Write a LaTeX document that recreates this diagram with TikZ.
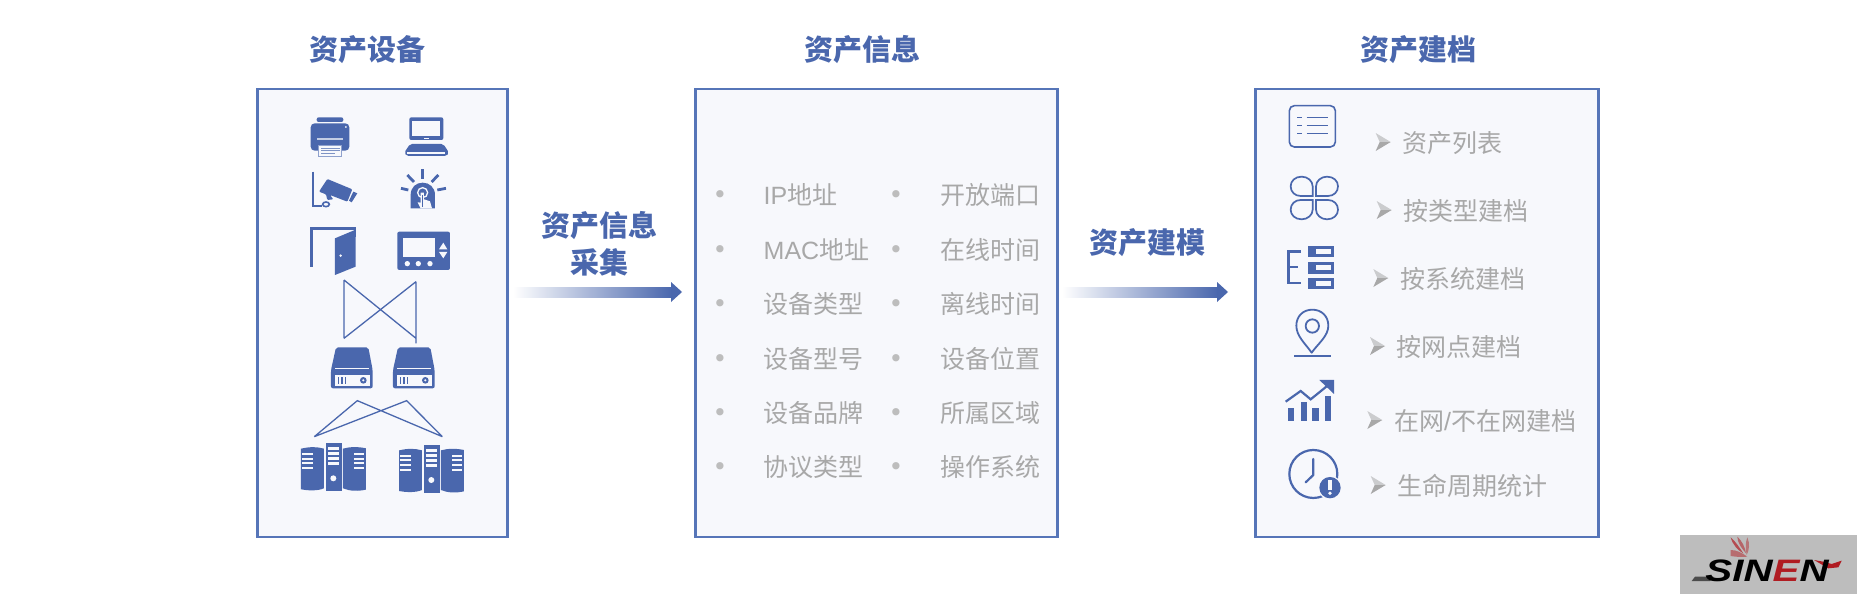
\documentclass[tikz,border=0pt]{standalone}
\usepackage{fontspec}
\setmainfont{Noto Sans CJK SC}
\newfontfamily\dejavu{DejaVu Sans}
\newfontfamily\logofont{Liberation Sans}
\usetikzlibrary{calc}
\definecolor{iconblue}{HTML}{4A67AD}
\definecolor{edgeblue}{HTML}{5675B8}
\definecolor{panelbg}{HTML}{F7F8FC}
\definecolor{greytext}{HTML}{A8A8A8}
\definecolor{dotgrey}{HTML}{BDBDBD}
\definecolor{logobg}{HTML}{BDBDBD}
\definecolor{logored}{HTML}{B01C22}
\tikzset{
  panel/.style={draw=edgeblue,fill=panelbg,line width=2.4pt,inner sep=0pt},
  heading/.style={text=iconblue,font=\fontsize{29}{32}\selectfont\bfseries,inner sep=0pt},
  infotext/.style={text=greytext,font=\fontsize{25}{28}\selectfont,anchor=west,inner sep=0pt},
  dotmark/.style={text=dotgrey,font=\dejavu\fontsize{25}{28}\selectfont,inner sep=0pt},
  solid blue/.style={fill=iconblue,draw=none},
  cutout/.style={fill=panelbg,draw=none},
  stroke blue/.style={draw=iconblue,line width=#1,fill=none},
  stroke blue/.default=1.6pt,
  link/.style={draw=iconblue,line width=1.3pt},
  zoomA/.style={shift={(250,80)},x=0.3333pt,y=-0.3333pt},
  zoomB/.style={shift={(250,270)},x=0.3333pt,y=-0.3333pt},
  zoomC/.style={shift={(1260,90)},x=0.3333pt,y=-0.3333pt},
  zoomD/.style={shift={(1260,300)},x=0.3333pt,y=-0.3333pt},
  zoomE/.style={shift={(1660,520)},x=0.3333pt,y=-0.3333pt},
}
\newcommand{\lat}[1]{{\logofont #1}}
\newcommand{\diskicon}{%
  \path[solid blue,rounded corners=2pt] (258,232)--(355,232)--(368,300)--(368,355)--(243,355)--(243,300)--cycle;
  \fill[panelbg] (255,295) rectangle (357,298);
  \fill[panelbg] (255,316) rectangle (360,347);
  \foreach \sx in {266,276,287}{\fill[iconblue] (\sx-2,321) rectangle (\sx+2,342);}
  \fill[iconblue] (340,331) circle[radius=10];
  \fill[panelbg] (340,331) circle[radius=3.5];
}
\newcommand{\servericon}{%
  \path[solid blue] (153,536) .. controls (180,530) and (200,530) .. (222,536) -- (222,655) .. controls (200,664) and (175,662) .. (153,658) -- cycle;
  \path[solid blue] (227,520) rectangle (275,663);
  \path[solid blue] (279,536) .. controls (300,530) and (325,530) .. (348,535) -- (348,659) .. controls (325,664) and (300,664) .. (279,655) -- cycle;
  \foreach \sy in {552,566,580,594}{
    \fill[panelbg] (157,\sy-3) rectangle (188,\sy+3);
    \fill[panelbg] (312,\sy-3) rectangle (343,\sy+3);
  }
  \foreach \sy in {536,551,566,581}{\fill[panelbg] (234,\sy-3.5) rectangle (268,\sy+3.5);}
  \fill[panelbg] (250,625) circle[radius=9];
}
\begin{document}
\begin{tikzpicture}[x=1pt,y=-1pt]
\useasboundingbox (0,0) rectangle (1857,594);
\fill[white] (0,0) rectangle (1857,594);

% panels
\node[panel,minimum width=250pt,minimum height=448pt] (devices) at (382.5,313) {};
\node[panel,minimum width=362pt,minimum height=448pt] (info) at (876.5,313) {};
\node[panel,minimum width=343pt,minimum height=448pt] (records) at (1427,313) {};

% headings
\node[heading] (h1) at (367,50) {资产设备};
\node[heading] (h2) at (862,50) {资产信息};
\node[heading] (h3) at (1418,50) {资产建档};

% arrows
\node[heading] (l1a) at (599,226) {资产信息};
\node[heading] (l1b) at (599,262) {采集};
\node[heading] (l2) at (1147,243) {资产建模};
\coordinate (a1s) at (513,292);
\coordinate (a1e) at (682,292);
\coordinate (a2s) at (1062,292);
\coordinate (a2e) at (1228,292);
\foreach \st/\en in {a1s/a1e,a2s/a2e}{
  \shade[left color=white,right color=iconblue] ($(\st)+(0,-5)$) rectangle ($(\en)+(-10,5)$);
  \fill[iconblue] ($(\en)+(-11,-10)$) -- (\en) -- ($(\en)+(-11,10)$) -- cycle;
}

% info lists
\foreach \ypos/\leftlabel/\rightlabel [count=\i] in {
  195/\lat{IP}地址/开放端口,
  250/\lat{MAC}地址/在线时间,
  304/设备类型/离线时间,
  359/设备型号/设备位置,
  413/设备品牌/所属区域,
  467/协议类型/操作系统}{
  \node[dotmark] (bl\i) at (720,\ypos+2) {•};
  \node[infotext] (tl\i) at (763.5,\ypos) {\leftlabel};
  \node[dotmark] (br\i) at (896,\ypos+2) {•};
  \node[infotext] (tr\i) at (940,\ypos) {\rightlabel};
}

% archive list
\foreach \cx/\tx/\ypos/\lab [count=\i] in {
  1375.7/1402/143/资产列表,
  1376.7/1403/211/按类型建档,
  1373.3/1400/279/按系统建档,
  1370/1396/347/按网点建档,
  1367.3/1394/421/{在网\lat{/}不在网建档},
  1370.7/1397/486/生命周期统计}{
  \node[infotext] (t\i) at (\tx,\ypos) {\lab};
  \coordinate (c\i) at (\cx,\ypos-1);
  \fill[greytext!55!panelbg] (c\i) ++(0,-9) -- ++(15,9) -- ++(-11,0) -- cycle;
  \fill[greytext] (c\i) ++(0,9) -- ++(15,-9) -- ++(-11,0) -- cycle;
}

% device icons, upper part
\begin{scope}[zoomA]
  % printer
  \path[solid blue,rounded corners=2pt] (200,112) rectangle (280,126);
  \path[solid blue,rounded corners=4pt] (182,130) rectangle (298,212);
  \fill[panelbg!70!iconblue] (202,175) rectangle (280,179);
  \fill[panelbg] (288,141) circle[radius=3];
  \draw[fill=panelbg,draw=panelbg!40!iconblue,line width=.7pt] (205,195) rectangle (275,228);
  \foreach \ly/\lx in {204/270,211/270,218/255}{\fill[iconblue!70!panelbg] (212,\ly) rectangle (\lx,\ly+3);}
  % laptop
  \path[solid blue,rounded corners=2pt] (478,112) rectangle (580,180);
  \fill[panelbg] (487,122) rectangle (570,167);
  \fill[panelbg] (522,174) rectangle (538,177);
  \path[solid blue,rounded corners=2pt] (480,192)--(580,192)--(597,218)--(590,228)--(470,228)--(463,218)--cycle;
  \fill[panelbg] (472,216) rectangle (586,222);
  % camera
  \draw[stroke blue=2pt] (190,275)--(190,377)--(217,377);
  \draw[stroke blue=1.6pt] (228,373) ellipse[x radius=10,y radius=7];
  \path[solid blue,rounded corners=1pt] (232,297)--(307,328)--(292,365)--(240,345)--(250,358)--(232,360)--(228,343)--(207,335)--cycle;
  \path[solid blue] (310,335)--(322,340)--(305,367)--(297,362)--cycle;
  % alarm
  \foreach \xa/\ya/\xb/\yb in {518/268/518/296,472/285/492/306,565/285/545/306,453/325/475/330,562/330/588/325}{
    \draw[iconblue,line width=2.8pt] (\xa,\ya)--(\xb,\yb);
  }
  \path[solid blue] (482,385)--(482,345) .. controls (482,322) and (498,308) .. (518,308) .. controls (538,308) and (555,322) .. (555,345)--(555,385)--cycle;
  \draw[panelbg,line width=1.3pt] (518,338) circle[radius=15];
  \path[cutout] (512,338)--(522,338)--(522,358)--(540,364)--(546,385)--(512,385)--(503,367)--(512,368)--cycle;
  \fill[iconblue] (516,346) rectangle (519,380);
  % door
  \draw[stroke blue=2.6pt] (185,560)--(185,445)--(315,445)--(315,470);
  \path[solid blue] (255,475)--(317,449)--(317,560)--(255,585)--cycle;
  \fill[panelbg] (272,527) circle[radius=4];
  % thermostat
  \path[solid blue,rounded corners=2pt] (442,455) rectangle (600,570);
  \fill[panelbg] (460,473) rectangle (555,532);
  \fill[panelbg] (567,508)--(592,508)--(580,488)--cycle;
  \fill[panelbg] (567,516)--(592,516)--(580,535)--cycle;
  \foreach \dx in {472,505,540}{\fill[panelbg] (\dx,551) circle[radius=8];}
\end{scope}

% device icons, lower part
\begin{scope}[zoomB]
  \coordinate (sw1t) at (282,30);
  \coordinate (sw1b) at (282,205);
  \coordinate (sw2t) at (498,35);
  \coordinate (sw2b) at (498,220);
  \draw[link] (sw1t)--(sw1b) (sw2t)--(sw2b) (sw1t)--(498,205) (sw1b)--(sw2t);
  \coordinate (up1) at (322,392);
  \coordinate (up2) at (470,392);
  \coordinate (dn1) at (193,500);
  \coordinate (dn2) at (577,500);
  \draw[link] (dn1)--(up1)--(dn2) (dn1)--(up2)--(dn2);
  \diskicon
  \begin{scope}[xshift=62pt]\diskicon\end{scope}
  \servericon
  \begin{scope}[xshift=98pt,yshift=-1.7pt]\servericon\end{scope}
\end{scope}

% archive icons, upper part
\begin{scope}[zoomC]
  \draw[stroke blue=1.6pt,rounded corners=5pt] (88,47) rectangle (226,171);
  \foreach \ly in {83,108,132}{
    \draw[iconblue,line width=1pt] (112,\ly)--(127,\ly) (140,\ly)--(204,\ly);
  }
  \draw[stroke blue=1.7pt] (158,318)--(122,318) .. controls (105,318) and (92,306) .. (92,289) .. controls (92,273) and (105,260) .. (125,260) .. controls (143,260) and (158,273) .. (158,289) -- cycle;
  \draw[stroke blue=1.7pt] (168,318)--(204,318) .. controls (221,318) and (234,306) .. (234,289) .. controls (234,273) and (221,260) .. (201,260) .. controls (183,260) and (168,273) .. (168,289) -- cycle;
  \draw[stroke blue=1.7pt] (158,330)--(122,330) .. controls (105,330) and (92,342) .. (92,359) .. controls (92,375) and (105,388) .. (125,388) .. controls (143,388) and (158,375) .. (158,359) -- cycle;
  \draw[stroke blue=1.7pt] (168,330)--(204,330) .. controls (221,330) and (234,342) .. (234,359) .. controls (234,375) and (221,388) .. (201,388) .. controls (183,388) and (168,375) .. (168,359) -- cycle;
  \draw[stroke blue=2.8pt] (122,484)--(86,484)--(86,579)--(122,579) (86,531)--(115,531);
  \foreach \ty/\by/\sa/\sb in {468/502/478/492,515/551/525/540,563/596/572/587}{
    \path[solid blue] (145,\ty) rectangle (222,\by);
    \fill[panelbg] (168,\sa) rectangle (212,\sb);
  }
\end{scope}

% archive icons, lower part
\begin{scope}[zoomD]
  \draw[stroke blue=1.8pt,line join=round] (155,158) .. controls (135,130) and (109,108) .. (109,77) .. controls (109,48) and (130,29) .. (157,29) .. controls (184,29) and (205,48) .. (205,77) .. controls (205,108) and (175,130) .. (155,158) -- cycle;
  \draw[stroke blue=1.8pt] (157,78) circle[radius=20];
  \draw[stroke blue=2.2pt] (103,169)--(212,169);
  \draw[stroke blue=2.2pt] (77,305)--(122,273)--(152,298)--(205,255);
  \fill[iconblue] (178,240)--(222,240)--(222,282)--cycle;
  \foreach \xa/\ya/\xb in {84/325/103,123/305/142,157/325/177,195/288/213}{
    \path[solid blue] (\xa,\ya) rectangle (\xb,362);
  }
  \draw[stroke blue=2.2pt] (160,522) circle[radius=72];
  \draw[stroke blue=2.2pt,line cap=round,line join=round] (160,477)--(160,525)--(137,547);
  \fill[panelbg] (210,563) circle[radius=36];
  \fill[iconblue] (210,563) circle[radius=32];
  \fill[panelbg] (205,540) rectangle (215,569);
  \fill[panelbg] (210,580) circle[radius=5.5];
\end{scope}

% logo
\fill[logobg] (1680,535) rectangle (1857,594);
\begin{scope}[zoomE]
  \fill[logored!70!logobg] (212,52) .. controls (225,62) and (240,85) .. (250,100) .. controls (235,92) and (218,75) .. cycle;
  \fill[logored!55!logobg] (232,50) .. controls (245,62) and (255,80) .. (258,100) .. controls (245,85) and (232,68) .. cycle;
  \fill[logored!45!logobg] (262,52) .. controls (270,70) and (268,90) .. (260,105) .. controls (256,85) and (256,68) .. cycle;
  \fill[logored!50!logobg] (212,90) .. controls (230,90) and (245,98) .. (262,110) .. controls (240,112) and (225,110) .. (212,108) -- cycle;
  \fill[logored] (462,120)--(490,125)--(515,132)--(545,122)--(535,142)--(505,145)--cycle;
  \fill[black!70] (95,183)--(105,170)--(160,170)--(150,183)--cycle;
\end{scope}
\node[inner sep=0pt,anchor=center,xscale=1.3] (logotext) at (1767,570.5) {\logofont\fontsize{31}{31}\selectfont\bfseries\itshape SIN\textcolor{logored}{E}N};
\end{tikzpicture}
\end{document}
